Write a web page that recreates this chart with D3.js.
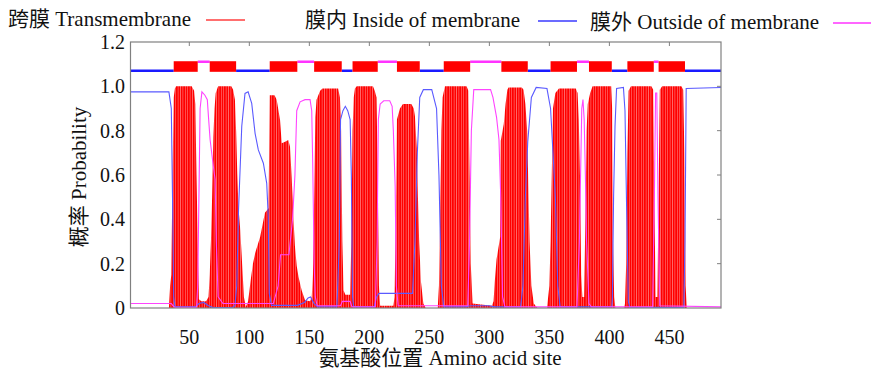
<!DOCTYPE html>
<html lang="en">
<head>
<meta charset="utf-8">
<script src="https://cdn.jsdelivr.net/npm/d3@7"></script>
<style>
  body { margin: 0; background: #fff; }
  text { font-family: 'Liberation Serif', 'Times New Roman', 'Noto Sans CJK SC', serif; fill: #111; }
</style>
</head>
<body>
<div id="chart"></div>
<script>
// TMHMM posterior probabilities as [residue, probability]
const tmProb = [[1,0],[33,0],[34,0.1],[35,0.15],[36,0.6],[37,0.95],[38,0.99],[39,1.0],[52,1.0],[54,0.98],[55,0.92],[56,0.6],[57,0.3],[58,0.04],[60,0.03],[64,0.03],[66,0.05],[67,0.15],[68,0.3],[69,0.5],[70,0.77],[71,0.9],[72,0.97],[74,1.0],[85,1.0],[86.5,0.985],[88,0.94],[89,0.8],[90,0.6],[91,0.45],[92.5,0.35],[94,0.2],[95.5,0.05],[97,0.005],[99,0.03],[101,0.12],[103,0.2],[105,0.25],[109,0.32],[113,0.43],[116,0.45],[117,0.96],[121,0.96],[122.8,0.94],[125.6,0.848],[127,0.743],[129.8,0.75],[132.5,0.758],[133.9,0.728],[135.3,0.59],[136.7,0.41],[138,0.28],[139.5,0.19],[141,0.14],[143.6,0.08],[146.4,0.035],[150.6,0.03],[152,0.05],[153,0.15],[154,0.5],[155,0.86],[156,0.94],[159,0.98],[161,0.99],[174,0.99],[175.5,0.95],[176.5,0.8],[177.5,0.3],[178.5,0.08],[180,0.06],[184,0.06],[185,0.3],[186,0.8],[187,0.95],[188,0.99],[189.5,1.0],[203,1.0],[204.5,0.98],[206,0.95],[207,0.6],[208,0.1],[209,0.01],[220,0.01],[221,0.05],[222,0.4],[223,0.85],[225.5,0.9],[228,0.92],[235,0.92],[237,0.9],[238,0.865],[239.5,0.72],[240.5,0.5],[241.5,0.3],[243,0.12],[245,0.02],[247,0],[257,0],[258,0.1],[259,0.4],[260,0.8],[261,0.95],[263,1.0],[281,1.0],[282.5,0.98],[283.5,0.6],[284.5,0.2],[286,0.02],[302,0.01],[303.5,0.03],[304.5,0.12],[306,0.22],[307.5,0.27],[309,0.32],[309.5,0.755],[312,0.83],[313.5,0.92],[315,0.985],[316,0.995],[327,0.995],[328.5,0.985],[330,0.92],[331.5,0.8],[332.5,0.55],[333.5,0.3],[335,0.1],[337,0.02],[340,0],[348,0],[350,0.1],[351,0.3],[352,0.6],[353,0.9],[355,0.97],[358,0.99],[372,0.99],[373.5,0.97],[374.5,0.85],[375.5,0.6],[376.5,0.15],[377.5,0.05],[379,0.05],[380,0.4],[381,0.8],[382,0.92],[384,0.97],[386,1.0],[401.5,1.0],[402.3,0.9],[403,0.3],[404,0.05],[405,0],[412,0],[413,0.02],[414,0.2],[415,0.7],[416,0.98],[418,1.0],[435,1.0],[436.5,0.985],[437.5,0.5],[438.5,0.05],[440,0.05],[441,0.5],[442,0.985],[444,1.0],[460,1.0],[461.5,0.985],[462.5,0.7],[463.5,0.1],[464.5,0],[493,0]];

const insideProb = [[1,0.975],[33,0.975],[35,0.9],[36,0.5],[37,0.05],[38,0.005],[55,0.005],[58,0.02],[62,0.025],[66,0.01],[70,0.002],[86,0.003],[88,0.01],[89.5,0.1],[91,0.44],[93.7,0.82],[96.4,0.968],[99,0.975],[102,0.923],[104.8,0.788],[107.5,0.713],[111.7,0.653],[114.5,0.562],[115.8,0.41],[116.6,0.066],[118.5,0.012],[125,0.012],[140,0.012],[146,0.025],[149,0.045],[151,0.05],[154,0.02],[157,0.005],[173,0.005],[175,0.3],[176,0.85],[178,0.89],[180,0.91],[182,0.89],[184,0.85],[185,0.6],[186,0.05],[187,0.005],[204,0.005],[206,0.05],[208,0.066],[236,0.066],[238,0.3],[240,0.7],[242,0.95],[245,0.985],[252,0.985],[256,0.9],[258,0.6],[260,0.1],[262,0.005],[280,0.005],[284,0.01],[300,0.01],[304,0.005],[326,0.005],[328,0.1],[330,0.5],[332,0.75],[335,0.95],[339,0.995],[348,0.99],[351,0.9],[353,0.7],[355,0.5],[357,0.1],[359,0.005],[402,0.005],[402.5,0.05],[403.5,0.5],[404.7,0.82],[406,0.99],[411.7,0.995],[413,0.89],[414.4,0.44],[415.8,0.03],[417,0.003],[462,0.003],[463,0.3],[464,0.99],[493,0.995]];

const outsideProb = [[1,0.02],[35,0.02],[36.5,0.01],[38,0.003],[56,0.003],[57,0.1],[58,0.5],[59,0.9],[60.5,0.975],[63,0.96],[65,0.94],[66,0.86],[67.3,0.76],[70,0.64],[71.5,0.58],[72.5,0.3],[74,0.05],[78,0.02],[115,0.02],[120,0.02],[124,0.1],[126,0.24],[133,0.24],[136,0.4],[138,0.6],[139.5,0.89],[142.3,0.93],[146.4,0.94],[150.6,0.94],[152,0.89],[152.8,0.66],[154,0.2],[155,0.05],[156.5,0.01],[176,0.01],[177.5,0.03],[184,0.03],[185.5,0.005],[205,0.005],[206.5,0.3],[207.5,0.85],[209,0.92],[212,0.935],[217,0.935],[219,0.91],[220,0.8],[221.5,0.55],[222.5,0.1],[224,0.01],[282,0.01],[283.5,0.3],[285,0.8],[287,0.985],[301,0.985],[303,0.95],[306,0.86],[308,0.76],[309.5,0.5],[311,0.05],[313,0.005],[373,0.005],[375,0.3],[377,0.9],[378,0.94],[379,0.85],[380,0.6],[381,0.3],[383,0.02],[385,0.005],[436,0.005],[437.5,0.5],[438.5,0.97],[439.5,0.97],[440.5,0.5],[442,0.01],[493,0.005]];

// predicted topology (top track)
const helices = [[37,57],[67,89],[117,140],[154,177],[186,207],[223,242],[262,284],[310,332],[351,373],[383,402],[415,437],[441,463]];
const loopSides = ['in','out','in','out','in','out','in','out','in','out','in','out','in'];
const seqLength = 493;

const xTicks = [50, 100, 150, 200, 250, 300, 350, 400, 450];
const yTicks = [0, 0.2, 0.4, 0.6, 0.8, 1.0, 1.2];
const yTickLabels = ['0', '0.2', '0.4', '0.6', '0.8', '1.0', '1.2'];

const legendItems = [
  { label: '跨膜 Transmembrane', color: '#ff6f6f', x: 8, y: 26, lineX: 206 },
  { label: '膜内 Inside of membrane', color: '#6b6bff', x: 305, y: 27, lineX: 538 },
  { label: '膜外 Outside of membrane', color: '#ff66ff', x: 590, y: 29, lineX: 833 },
];

const width = 871;
const height = 371;

const svg = d3.select('#chart')
  .append('svg')
  .attr('width', width)
  .attr('height', height);

const x = d3.scaleLinear().domain([1, seqLength]).range([130.5, 721]);
const y = d3.scaleLinear().domain([0, 1.2]).range([308, 42]);

// stripes that mimic the impulse bars
const defs = svg.append('defs');
const pat = defs.append('pattern')
  .attr('id', 'tmStripes')
  .attr('patternUnits', 'userSpaceOnUse')
  .attr('x', x(1))
  .attr('width', 2.4)
  .attr('height', 20);
pat.append('rect').attr('width', 2.4).attr('height', 20).attr('fill', '#ff8a8a');
pat.append('rect').attr('width', 1.8).attr('height', 20).attr('fill', '#ff0000');

defs.append('clipPath').attr('id', 'plotClip')
  .append('rect')
  .attr('x', x(1)).attr('y', y(1.2))
  .attr('width', x(seqLength) - x(1)).attr('height', y(0) - y(1.2));

const plot = svg.append('g').attr('clip-path', 'url(#plotClip)');

const area = d3.area()
  .x((d) => x(d[0]))
  .y0(y(0))
  .y1((d) => y(d[1]));

const line = d3.line()
  .x((d) => x(d[0]))
  .y((d) => y(d[1]));

plot.append('path')
  .datum(tmProb)
  .attr('d', area)
  .attr('fill', 'url(#tmStripes)');

plot.append('path')
  .datum(insideProb)
  .attr('d', line)
  .attr('fill', 'none')
  .attr('stroke', '#5a5aff')
  .attr('stroke-width', 1.1);

plot.append('path')
  .datum(outsideProb)
  .attr('d', line)
  .attr('fill', 'none')
  .attr('stroke', '#ff44ff')
  .attr('stroke-width', 1.1);

// topology track
const insideLevel = 1.07;
const outsideLevel = 1.111;
const loops = loopSides.map((side, i) => ({
  side,
  start: i === 0 ? 1 : helices[i - 1][1],
  end: i === helices.length ? seqLength : helices[i][0],
}));

plot.append('g')
  .selectAll('line')
  .data(loops)
  .join('line')
  .attr('x1', (d) => x(d.start))
  .attr('x2', (d) => x(d.end))
  .attr('y1', (d) => y(d.side === 'in' ? insideLevel : outsideLevel))
  .attr('y2', (d) => y(d.side === 'in' ? insideLevel : outsideLevel))
  .attr('stroke', (d) => (d.side === 'in' ? '#1a1aff' : '#ff33ff'))
  .attr('stroke-width', 2.5);

plot.append('g')
  .selectAll('rect')
  .data(helices)
  .join('rect')
  .attr('x', (d) => x(d[0]))
  .attr('width', (d) => x(d[1]) - x(d[0]))
  .attr('y', y(outsideLevel) - 0.5)
  .attr('height', y(insideLevel) - y(outsideLevel) + 1.5)
  .attr('fill', '#ff0000');

// frame and inward ticks
const frame = svg.append('g').attr('stroke', '#808080').attr('fill', 'none');
frame.append('rect')
  .attr('x', x(1)).attr('y', y(1.2))
  .attr('width', x(seqLength) - x(1)).attr('height', y(0) - y(1.2))
  .attr('stroke-width', 1.2);

frame.selectAll('.xt-top')
  .data(xTicks)
  .join('line')
  .attr('x1', (d) => x(d)).attr('x2', (d) => x(d))
  .attr('y1', y(1.2)).attr('y2', y(1.2) + 4);

frame.selectAll('.yt-right')
  .data(yTicks.slice(1, -1))
  .join('line')
  .attr('class', 'yt-right')
  .attr('x1', x(seqLength)).attr('x2', x(seqLength) - 4)
  .attr('y1', (d) => y(d)).attr('y2', (d) => y(d));

// tick labels
svg.append('g')
  .selectAll('text')
  .data(xTicks)
  .join('text')
  .attr('x', (d) => x(d))
  .attr('y', 344)
  .attr('text-anchor', 'middle')
  .style('font-family', "'Liberation Serif', serif")
  .style('font-size', '20px')
  .text((d) => String(d));

svg.append('g')
  .selectAll('text')
  .data(yTicks)
  .join('text')
  .attr('x', 125)
  .attr('y', (d) => y(d) + 7)
  .attr('text-anchor', 'end')
  .style('font-family', "'Liberation Serif', serif")
  .style('font-size', '20px')
  .text((d, i) => yTickLabels[i]);

// axis titles
svg.append('text')
  .attr('x', 440)
  .attr('y', 365)
  .attr('text-anchor', 'middle')
  .style('font-size', '21px')
  .text('氨基酸位置  Amino acid site');

svg.append('text')
  .attr('transform', 'translate(86,177) rotate(-90)')
  .attr('text-anchor', 'middle')
  .style('font-size', '21px')
  .text('概率 Probability');

// legend
const legend = svg.append('g')
  .selectAll('g')
  .data(legendItems)
  .join('g');

legend.append('text')
  .attr('x', (d) => d.x)
  .attr('y', (d) => d.y)
  .style('font-size', '21px')
  .text((d) => d.label);

legend.append('line')
  .attr('x1', (d) => d.lineX)
  .attr('x2', (d) => d.lineX + 39)
  .attr('y1', (d) => d.y - 6)
  .attr('y2', (d) => d.y - 6)
  .attr('stroke', (d) => d.color)
  .attr('stroke-width', 2.2);
</script>
</body>
</html>
